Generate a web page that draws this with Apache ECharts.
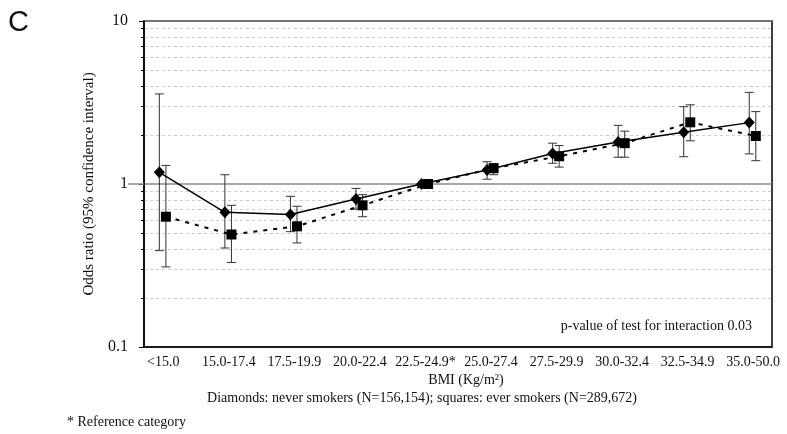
<!DOCTYPE html>
<html>
<head>
<meta charset="utf-8">
<script src="https://cdn.jsdelivr.net/npm/echarts@6/dist/echarts.min.js"></script>
<style>
  html, body { margin: 0; padding: 0; background: #fff; }
  #chart { width: 787px; height: 434px; }
</style>
</head>
<body>
<div id="chart"></div>
<script>
// BMI categories (kg/m²); 22.5-24.9 is the reference group
const categories = ['<15.0', '15.0-17.4', '17.5-19.9', '20.0-22.4', '22.5-24.9*',
                    '25.0-27.4', '27.5-29.9', '30.0-32.4', '32.5-34.9', '35.0-50.0'];

// Never smokers (diamonds): odds ratio and 95% CI
const neverOR    = [1.18, 0.67, 0.65, 0.81, 1.00, 1.22, 1.54, 1.81, 2.08, 2.38];
const neverLower = [0.39, 0.405, 0.51, 0.70, 1.00, 1.07, 1.34, 1.46, 1.47, 1.53];
const neverUpper = [3.57, 1.14, 0.84, 0.94, 1.00, 1.37, 1.78, 2.29, 2.98, 3.65];

// Ever smokers (squares): odds ratio and 95% CI
const everOR    = [0.63, 0.49, 0.55, 0.74, 1.00, 1.25, 1.48, 1.78, 2.39, 1.97];
const everLower = [0.31, 0.33, 0.435, 0.63, 1.00, 1.14, 1.27, 1.46, 1.84, 1.39];
const everUpper = [1.30, 0.74, 0.73, 0.86, 1.00, 1.33, 1.72, 2.11, 3.06, 2.78];

// Odds-ratio axis range and the null-effect line
const yTicks = [0.1, 1, 10];
const nullOR = 1;

// Layout constants
const SQUARE_SHIFT = 0.1;   // squares drawn just right of the diamonds
const LABEL_SHIFT = 0.06;   // category labels sit between the two markers
const CAP = 9;              // error-bar cap width (px)
const SERIF = '"Liberation Serif", "Times New Roman", serif';
const INK = '#111';

const xPos = categories.map((c, i) => i + 1);
const neverPts = xPos.map((x, i) => [x, neverOR[i]]);
const everPts = xPos.map((x, i) => [x + SQUARE_SHIFT, everOR[i]]);
const neverBars = xPos.map((x, i) => [x, neverLower[i], neverUpper[i]]);
const everBars = xPos.map((x, i) => [x + SQUARE_SHIFT, everLower[i], everUpper[i]]);

function errorBar(params, api) {
  const x = api.value(0);
  const lo = api.coord([x, api.value(1)]);
  const hi = api.coord([x, api.value(2)]);
  if (Math.abs(lo[1] - hi[1]) < 1) return null;
  const st = { stroke: '#333', lineWidth: 1 };
  const h = CAP / 2;
  return {
    type: 'group',
    children: [
      { type: 'line', shape: { x1: lo[0], y1: lo[1], x2: hi[0], y2: hi[1] }, style: st },
      { type: 'line', shape: { x1: lo[0] - h, y1: lo[1], x2: lo[0] + h, y2: lo[1] }, style: st },
      { type: 'line', shape: { x1: hi[0] - h, y1: hi[1], x2: hi[0] + h, y2: hi[1] }, style: st }
    ]
  };
}

const yRange = { type: 'log', logBase: 10, min: yTicks[0], max: yTicks[yTicks.length - 1] };

const chart = echarts.init(document.getElementById('chart'), null, { renderer: 'canvas' });

chart.setOption({
  animation: false,
  backgroundColor: '#fff',
  grid: {
    left: 144, right: 15, top: 21, bottom: 87,
    show: true, borderColor: '#000', borderWidth: 1.5, backgroundColor: 'transparent'
  },
  xAxis: {
    type: 'value',
    min: 0.766, max: 10.347,
    axisLine: { show: true, onZero: false, lineStyle: { color: '#000', width: 1.5 } },
    axisTick: { show: false },
    splitLine: { show: false },
    axisLabel: {
      customValues: xPos.map(x => x + LABEL_SHIFT),
      formatter: v => categories[Math.round(v - LABEL_SHIFT) - 1] || '',
      fontFamily: SERIF, fontSize: 14, color: INK, margin: 8
    }
  },
  yAxis: [
    Object.assign({}, yRange, {
      name: 'Odds ratio (95% confidence interval)',
      nameLocation: 'middle', nameGap: 47, nameRotate: 90,
      nameTextStyle: { fontFamily: SERIF, fontSize: 15, color: INK },
      axisLine: { show: true, lineStyle: { color: '#000', width: 1.5 } },
      axisTick: { show: true, length: 5, lineStyle: { color: '#000', width: 1 } },
      minorTick: { show: true, splitNumber: 9, length: 3, lineStyle: { color: '#000', width: 1 } },
      splitLine: { show: true, lineStyle: { color: '#8a8a8a', width: 1.5 } },
      minorSplitLine: { show: true, lineStyle: { color: '#cdcdcd', width: 1, type: [3, 3] } },
      axisLabel: {
        fontFamily: SERIF, fontSize: 16, color: INK, margin: 16,
        formatter: v => String(v)
      }
    }),
    // companion axis: carries the null line out past the axis as a long tick
    Object.assign({}, yRange, {
      position: 'left', offset: 0,
      axisLine: { show: false },
      axisLabel: { show: false },
      splitLine: { show: false },
      axisTick: { show: true, customValues: [nullOR], length: 16,
                  lineStyle: { color: '#8a8a8a', width: 1.5 } }
    })
  ],
  series: [
    {
      type: 'custom', name: 'never CI', renderItem: errorBar,
      encode: { x: 0, y: [1, 2] }, data: neverBars, z: 2
    },
    {
      type: 'custom', name: 'ever CI', renderItem: errorBar,
      encode: { x: 0, y: [1, 2] }, data: everBars, z: 2
    },
    {
      type: 'line', name: 'never smokers', data: neverPts, z: 3,
      symbol: 'diamond', symbolSize: [11, 12],
      itemStyle: { color: '#000' },
      lineStyle: { color: '#000', width: 1.5 }
    },
    {
      type: 'line', name: 'ever smokers', data: everPts, z: 3,
      symbol: 'rect', symbolSize: 10,
      itemStyle: { color: '#000' },
      lineStyle: { color: '#000', width: 2, type: [4, 6] }
    }
  ],
  graphic: [
    { type: 'text', left: 8, top: 8,
      style: { text: 'C', font: '29px "Liberation Sans", Arial, sans-serif', fill: '#111' } },
    { type: 'text', x: 752, y: 326,
      style: { text: 'p-value of test for interaction 0.03', font: '14px ' + SERIF, fill: INK,
               align: 'right', verticalAlign: 'middle' } },
    { type: 'text', x: 466, y: 380,
      style: { text: 'BMI (Kg/m²)', font: '14px ' + SERIF, fill: INK,
               align: 'center', verticalAlign: 'middle' } },
    { type: 'text', x: 422, y: 398,
      style: { text: 'Diamonds: never smokers (N=156,154); squares: ever smokers (N=289,672)',
               font: '14px ' + SERIF, fill: INK, align: 'center', verticalAlign: 'middle' } },
    { type: 'text', x: 67, y: 422,
      style: { text: '* Reference category', font: '14px ' + SERIF, fill: INK,
               align: 'left', verticalAlign: 'middle' } }
  ]
});
</script>
</body>
</html>
